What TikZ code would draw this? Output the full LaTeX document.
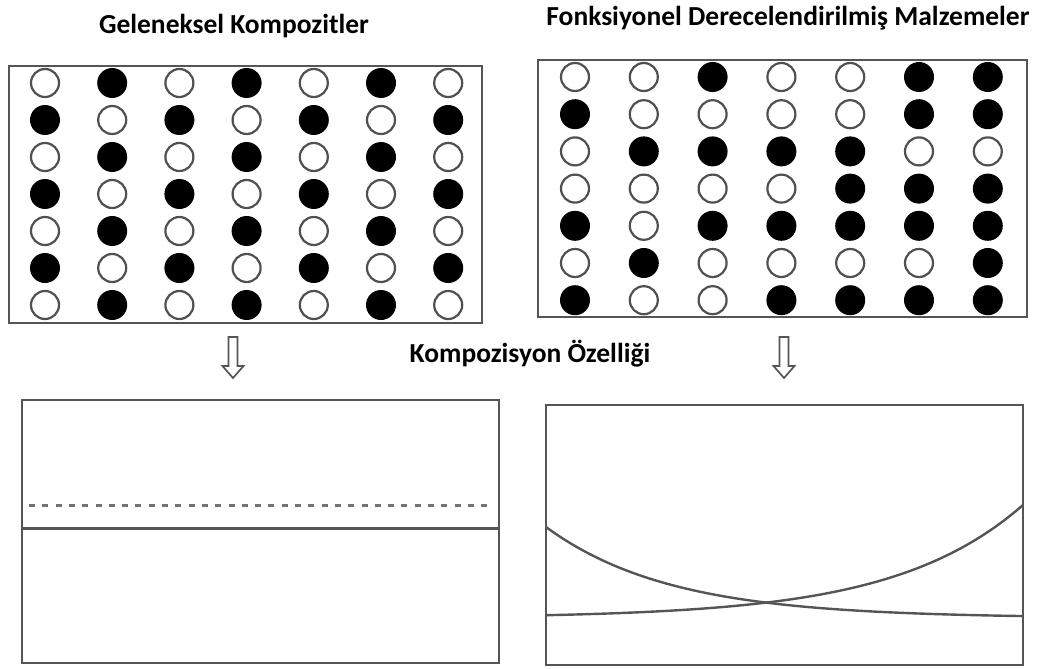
\documentclass[tikz,border=0pt]{standalone}
\usepackage{fontspec}
\setmainfont{Carlito}
\definecolor{linegray}{RGB}{85,85,85}
\definecolor{ringgray}{RGB}{80,80,80}
\definecolor{dashgray}{RGB}{115,115,115}
\begin{document}
\begin{tikzpicture}[x=1pt,y=-1pt,
  frame/.style={draw=linegray, line width=2.8pt},
  ring/.style={draw=ringgray, fill=white, line width=2.2pt},
  dot/.style={fill=black},
  curve/.style={draw=linegray, line width=2.4pt},
  title/.style={anchor=base, inner sep=0pt, font=\fontsize{27.5}{33}\selectfont\bfseries},
  hollow/.style={draw=linegray, fill=white, line width=1.7pt, line join=miter}]
\useasboundingbox (0,0) rectangle (1047,669);

% titles
\node[title] (tl) at (234,33.5) {Geleneksel Kompozitler};
\node[title] (tr) at (788,25.5) {Fonksiyonel Derecelendirilmiş Malzemeler};
\node[title] (mid) at (530,362) {Kompozisyon Özelliği};

% conventional composite: alternating pattern
\draw[frame] (9,66) rectangle (482,323);
\foreach \i in {0,...,6}{
  \foreach \j in {0,...,6}{
    \pgfmathtruncatemacro{\v}{mod(\i+\j,2)}
    \ifnum\v=1
      \fill[dot] ({45+67.2*\i},{83+37*\j}) circle (15pt);
    \else
      \draw[ring] ({45+67.2*\i},{83+37*\j}) circle (14pt);
    \fi
  }
}

% functionally graded material
\draw[frame] (538,60) rectangle (1027,317);
\foreach \row [count=\j from 0] in {
  {0,0,1,0,0,1,1},
  {1,0,0,0,0,1,1},
  {0,1,1,1,1,0,0},
  {0,0,0,0,1,1,1},
  {1,0,1,1,1,1,1},
  {0,1,0,0,0,0,1},
  {1,0,0,1,1,1,1}}{
  \foreach \v [count=\i from 0] in \row {
    \ifnum\v=1
      \fill[dot] ({575+68.8*\i},{77+37.2*\j}) circle (15pt);
    \else
      \draw[ring] ({575+68.8*\i},{77+37.2*\j}) circle (14pt);
    \fi
  }
}

% hollow down arrows
\foreach \ax in {233,784}{
  \draw[hollow] (\ax-4.5,337) -- (\ax+4.5,337) -- (\ax+4.5,366) -- (\ax+10.5,366)
    -- (\ax,378) -- (\ax-10.5,366) -- (\ax-4.5,366) -- cycle;
}

% property profile, conventional
\draw[frame] (22,400) rectangle (499,663);
\draw[draw=dashgray, line width=2.5pt, dash pattern=on 6pt off 7.3pt] (29,505.5) -- (493,505.5);
\draw[curve] (22,528.5) -- (499,528.5);

% property profile, graded
\draw[frame] (546,405) rectangle (1023,665);
\draw[curve] plot[domain=0:1, samples=80, smooth] ({546+477*\x},{618-91*exp(-3.85*\x)});
\draw[curve] plot[domain=0:1, samples=80, smooth] ({546+477*\x},{618-113*exp(-3.7*(1-\x))});
\end{tikzpicture}
\end{document}
